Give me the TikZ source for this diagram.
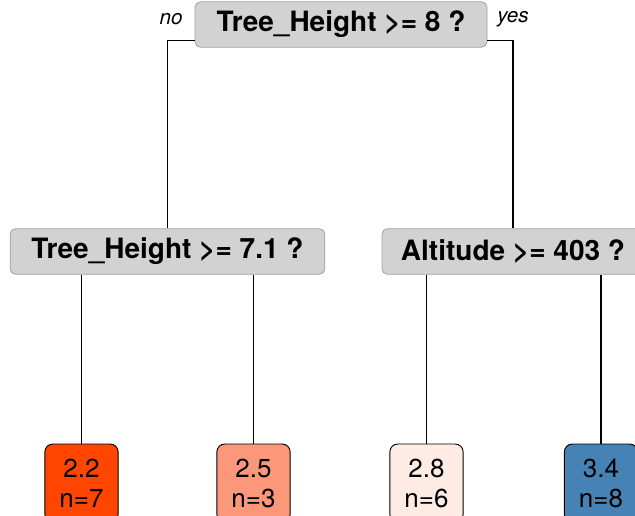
\documentclass[tikz,border=0pt]{standalone}
\usepackage{fontspec}
\setmainfont{TeX Gyre Heros}
\usetikzlibrary{positioning}

\definecolor{leafA}{RGB}{255,69,0}
\definecolor{leafB}{RGB}{252,152,122}
\definecolor{leafC}{RGB}{254,236,228}
\definecolor{leafD}{RGB}{70,130,180}

\begin{document}
\begin{tikzpicture}[x=0.75pt, y=-0.75pt,
  split/.style={draw=gray!75, fill=gray!35, rounded corners=4pt, minimum height=34pt, inner sep=0pt, font=\fontsize{21}{25}\selectfont\bfseries, line width=0.6pt},
  leaf/.style={draw, rounded corners=6pt, minimum width=55pt, minimum height=58.5pt, inner sep=0pt, align=center, font=\fontsize{19.5}{22.5}\selectfont, line width=0.7pt},
  side/.style={font=\fontsize{15.5}{18}\selectfont\itshape},
  edge/.style={line width=0.8pt}]
\useasboundingbox (0,0) rectangle (635,515);
\clip (0,0) rectangle (635,515);
% splits
\node[split, minimum width=219pt] (root) at (341,24.5) {Tree\_Height >= 8 ?};
\node[split, minimum width=236pt] (lm) at (167.5,251.5) {Tree\_Height >= 7.1 ?};
\node[split, minimum width=196.5pt] (rm) at (513,251.5) {Altitude >= 403 ?};
\node[side] (no) at (171,19) {no};
\node[side] (yes) at (513,19) {yes};
% leaves
\node[leaf, fill=leafA] (l1) at (81.5,483) {2.2\\n=7};
\node[leaf, fill=leafB] (l2) at (253.5,483) {2.5\\n=3};
\node[leaf, fill=leafC] (l3) at (426.5,483) {2.8\\n=6};
\node[leaf, fill=leafD] (l4) at (601,483) {3.4\\n=8};
% branches
\draw[edge] ([yshift=5pt]root.south west) -| (lm.north);
\draw[edge] ([yshift=5pt]root.south east) -| (rm.north);
\draw[edge] (lm.south -| l1.north) -- (l1.north);
\draw[edge] (lm.south -| l2.north) -- (l2.north);
\draw[edge] (rm.south -| l3.north) -- (l3.north);
\draw[edge] (rm.south -| l4.north) -- (l4.north);
\end{tikzpicture}
\end{document}
